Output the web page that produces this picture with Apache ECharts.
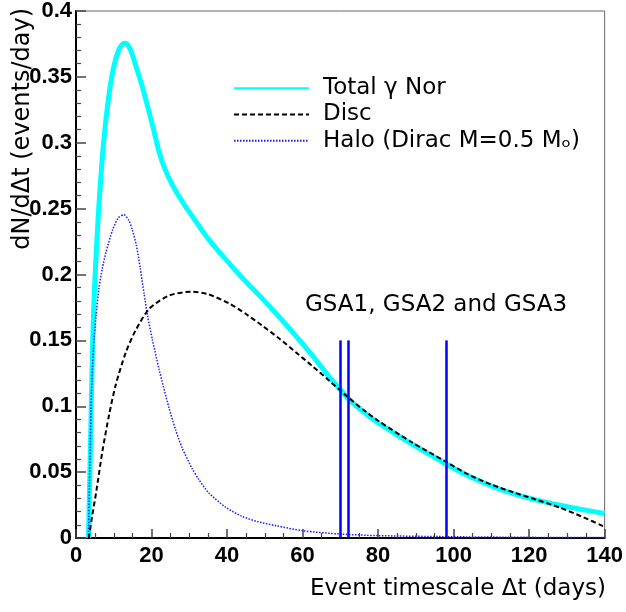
<!DOCTYPE html>
<html>
<head>
<meta charset="utf-8">
<script src="https://cdn.jsdelivr.net/npm/echarts@6/dist/echarts.min.js"></script>
<style>
html,body{margin:0;padding:0;background:#fff;}
#c{width:626px;height:612px;}
</style>
</head>
<body>
<div id="c"></div>
<script>
// ---- data ----
const totalX = [3.3, 3.9, 4.4, 4.9, 5.5, 6.1, 7.3, 8.8, 10.1, 11.4, 12.4, 13.2, 14.2, 14.9, 16.0, 17.6, 20.2, 22.1, 23.7, 25.7, 28.0, 30.1, 34.5, 37.5, 40.6, 44.0, 49.4, 54.0, 58.2, 62.6, 67.0, 70.5, 72.0, 76.0, 80.0, 89.0, 98.0, 104.0, 110.0, 116.0, 122.0, 128.0, 134.0, 140.0];
const totalY = [0, 0.080, 0.148, 0.190, 0.224, 0.254, 0.300, 0.338, 0.359, 0.371, 0.375, 0.3755, 0.372, 0.367, 0.357, 0.342, 0.314, 0.292, 0.279, 0.267, 0.256, 0.247, 0.229, 0.2185, 0.2085, 0.1975, 0.1815, 0.1672, 0.1535, 0.1385, 0.1225, 0.111, 0.106, 0.096, 0.0875, 0.0712, 0.0562, 0.047, 0.0395, 0.0335, 0.0288, 0.025, 0.0216, 0.0186];

const discX = [3.4, 4.3, 5.3, 7.0, 8.8, 10.5, 13.2, 15.8, 19.4, 24.6, 30.5, 35.0, 40.6, 45.0, 49.4, 54.0, 58.2, 62.6, 67.0, 72.0, 76.0, 80.0, 89.0, 98.0, 104.0, 110.0, 116.0, 122.0, 128.0, 134.0, 140.0];
const discY = [0, 0.017, 0.034, 0.066, 0.094, 0.116, 0.141, 0.1577, 0.174, 0.184, 0.187, 0.185, 0.178, 0.170, 0.161, 0.151, 0.141, 0.1305, 0.1195, 0.107, 0.0975, 0.089, 0.0725, 0.0578, 0.048, 0.0405, 0.0345, 0.029, 0.0232, 0.0162, 0.0085];

const haloX = [3.3, 3.7, 4.1, 4.6, 5.3, 6.1, 7.0, 7.9, 9.7, 11.2, 12.7, 14.0, 14.9, 16.0, 17.0, 18.0, 19.0, 20.2, 22.0, 24.6, 26.4, 28.1, 30.8, 32.5, 35.1, 39.5, 43.9, 48.0, 52.7, 60.1, 70.0, 80.0, 98.0, 120.0, 140.0];
const haloY = [0, 0.06, 0.11, 0.143, 0.168, 0.190, 0.205, 0.2165, 0.234, 0.243, 0.2453, 0.241, 0.234, 0.222, 0.205, 0.186, 0.168, 0.151, 0.128, 0.099, 0.082, 0.0685, 0.0525, 0.0445, 0.0345, 0.0236, 0.0165, 0.0125, 0.0095, 0.0055, 0.003, 0.0018, 0.001, 0.0005, 0.0003];

const gsaX = [70, 72, 98];
const gsaTop = 0.15;

const seriesNames = ['Total \u03b3 Nor', 'Disc', 'Halo (Dirac M=0.5 M\u2092)'];
const xTicks = [0, 20, 40, 60, 80, 100, 120, 140];
const yTicks = [0, 0.05, 0.1, 0.15, 0.2, 0.25, 0.3, 0.35, 0.4];
const xTitle = 'Event timescale \u0394t (days)';
const yTitle = 'dN/d\u0394t (events/day)';
const gsaLabel = 'GSA1, GSA2 and GSA3';

const zip = (xs, ys) => xs.map((x, i) => [x, ys[i]]);

const chart = echarts.init(document.getElementById('c'), null, {renderer: 'canvas'});
const labelFont = {fontFamily: 'Liberation Sans', fontWeight: 'bold', fontSize: 22, color: '#000'};
const textFont = 'DejaVu Sans';

chart.setOption({
  animation: false,
  backgroundColor: '#fff',
  grid: {left: 76, right: 19, top: 6, bottom: 74, show: true, borderColor: '#666', borderWidth: 1, backgroundColor: 'transparent'},
  xAxis: {
    type: 'value', min: xTicks[0], max: xTicks[xTicks.length - 1], interval: 20,
    axisLine: {show: true, lineStyle: {color: '#000', width: 2}},
    axisTick: {show: true, inside: true, length: 9, lineStyle: {color: '#444', width: 1.5}},
    minorTick: {show: true, splitNumber: 4, length: 5, lineStyle: {color: '#444', width: 1.2}},
    splitLine: {show: false},
    axisLabel: Object.assign({margin: 7}, labelFont)
  },
  yAxis: {
    type: 'value', min: yTicks[0], max: yTicks[yTicks.length - 1], interval: 0.05,
    axisLine: {show: true, lineStyle: {color: '#000', width: 2}},
    axisTick: {show: true, inside: true, length: 10, lineStyle: {color: '#444', width: 1.5}},
    minorTick: {show: true, splitNumber: 5, length: 5, lineStyle: {color: '#444', width: 1.2}},
    splitLine: {show: false},
    axisLabel: Object.assign({margin: 4, formatter: v => String(+v.toFixed(2))}, labelFont)
  },
  legend: {
    left: 228, top: 70, orient: 'vertical',
    data: seriesNames,
    itemWidth: 75, itemHeight: 14, itemGap: 0,
    itemStyle: {opacity: 0},
    textStyle: {fontFamily: textFont, fontSize: 23, color: '#000', lineHeight: 26.3, padding: [0, 0, 0, 9]},
    selectedMode: false
  },
  graphic: [
    {type: 'text', x: 23, y: 8, rotation: Math.PI / 2,
     style: {text: yTitle, fontFamily: textFont, fontSize: 24, fill: '#000', textAlign: 'right', textVerticalAlign: 'middle'}},
    {type: 'text', x: 606, y: 589,
     style: {text: xTitle, fontFamily: textFont, fontSize: 23, fill: '#000', textAlign: 'right', textVerticalAlign: 'middle'}},
    {type: 'text', x: 305, y: 305,
     style: {text: gsaLabel, fontFamily: textFont, fontSize: 23, fill: '#000', textAlign: 'left', textVerticalAlign: 'middle'}}
  ],
  series: [
    {name: 'GSA', type: 'line', data: [], symbol: 'none', silent: true,
     markLine: {symbol: 'none', silent: true, label: {show: false},
       lineStyle: {color: '#0000ff', width: 2.5, type: 'solid'},
       data: gsaX.map(x => [{coord: [x, 0]}, {coord: [x, gsaTop]}])}},
    {name: seriesNames[2], type: 'line', data: zip(haloX, haloY), smooth: 0.25, symbol: 'none',
     lineStyle: {color: '#1a1aff', width: 1.5, type: [1.5, 1.5]}, itemStyle: {color: '#1a1aff'}},
    {name: seriesNames[1], type: 'line', data: zip(discX, discY), smooth: 0.25, symbol: 'none',
     lineStyle: {color: '#000', width: 2, type: [5, 3]}, itemStyle: {color: '#000'}},
    {name: seriesNames[0], type: 'line', data: zip(totalX, totalY), smooth: 0.25, symbol: 'none', z: 1,
     lineStyle: {color: '#00ffff', width: 5}, itemStyle: {color: '#00ffff'}}
  ]
});
</script>
</body>
</html>
